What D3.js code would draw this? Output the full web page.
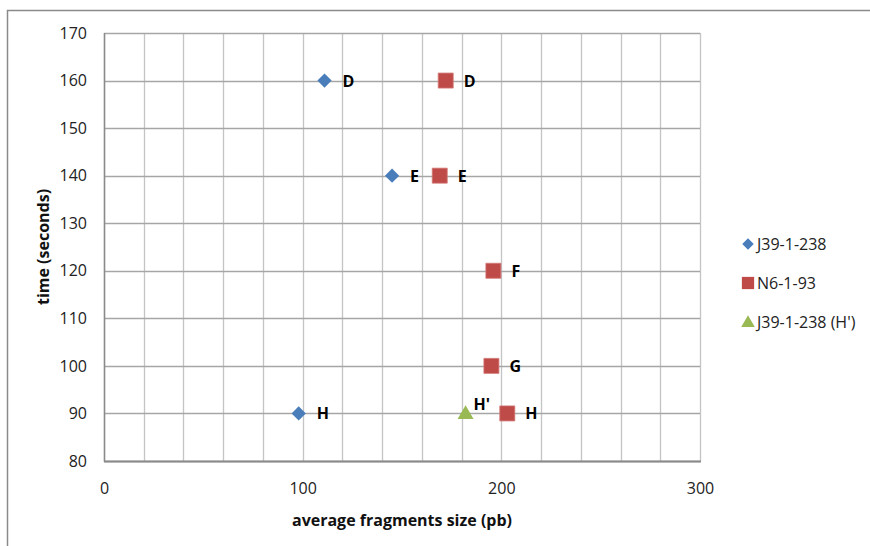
<!DOCTYPE html>
<html>
<head>
<meta charset="utf-8">
<script src="https://cdn.jsdelivr.net/npm/d3@7"></script>
<style>
  html, body { margin: 0; padding: 0; background: #fff; }
  svg text { font-family: "Open Sans", sans-serif; }
</style>
</head>
<body>
<svg id="chart" width="870" height="546"></svg>
<script>
// ---- data ----
const seriesNames = ["J39-1-238", "N6-1-93", "J39-1-238 (H')"];
const j39Sizes = [111, 145, 98];
const j39Times = [160, 140, 90];
const j39Labels = ["D", "E", "H"];
const n6Sizes = [172, 169, 196, 195, 203];
const n6Times = [160, 140, 120, 100, 90];
const n6Labels = ["D", "E", "F", "G", "H"];
const hPrimeSizes = [182];
const hPrimeTimes = [90];
const hPrimeLabels = ["H'"];
const xTicks = [0, 100, 200, 300];
const yTicks = [80, 90, 100, 110, 120, 130, 140, 150, 160, 170];
const xTitle = "average fragments size (pb)";
const yTitle = "time (seconds)";

// ---- layout ----
const svg = d3.select("#chart");
const plot = { left: 104, top: 33, right: 700, bottom: 461 };
const x = d3.scaleLinear().domain([0, 300]).range([plot.left, plot.right]);
const y = d3.scaleLinear().domain([80, 170]).range([plot.bottom, plot.top]);

// outer chart border
svg.append("rect").attr("x", 7.5).attr("y", 10.5).attr("width", 900).attr("height", 600)
  .attr("fill", "none").attr("stroke", "#8a8a8a").attr("stroke-width", 1.5);

// gridlines
const gridX = d3.range(0, 301, 20);
svg.append("g").selectAll("line").data(gridX).join("line")
  .attr("x1", d => Math.round(x(d)) + 0.5).attr("x2", d => Math.round(x(d)) + 0.5)
  .attr("y1", plot.top).attr("y2", plot.bottom)
  .attr("stroke", "#c4c4c4").attr("stroke-width", 1.3);
svg.append("g").selectAll("line").data(yTicks).join("line")
  .attr("x1", plot.left).attr("x2", plot.right)
  .attr("y1", d => Math.round(y(d)) + 0.5).attr("y2", d => Math.round(y(d)) + 0.5)
  .attr("stroke", "#a6a6a6").attr("stroke-width", 1.3);

// axis lines
svg.append("line").attr("x1", plot.left + 0.5).attr("x2", plot.left + 0.5)
  .attr("y1", plot.top).attr("y2", plot.bottom + 1)
  .attr("stroke", "#8a8a8a").attr("stroke-width", 1.5);
svg.append("line").attr("x1", plot.left).attr("x2", plot.right + 1)
  .attr("y1", plot.bottom + 0.5).attr("y2", plot.bottom + 0.5)
  .attr("stroke", "#8a8a8a").attr("stroke-width", 1.8);

// axes via d3 axis generators (lines hidden, labels only)
const xAxis = svg.append("g").attr("transform", `translate(0,${plot.bottom})`)
  .call(d3.axisBottom(x).tickValues(xTicks).tickSize(0).tickPadding(22));
xAxis.select(".domain").remove();
xAxis.selectAll("text").attr("font-size", 16).attr("fill", "#222")
  .style("font-family", "'Open Sans', sans-serif");

const yAxis = svg.append("g").attr("transform", `translate(${plot.left},0)`)
  .call(d3.axisLeft(y).tickValues(yTicks).tickSize(0).tickPadding(17));
yAxis.select(".domain").remove();
yAxis.selectAll("text").attr("font-size", 16).attr("fill", "#222")
  .style("font-family", "'Open Sans', sans-serif");

// axis titles
svg.append("text").attr("x", 402).attr("y", 526).attr("text-anchor", "middle")
  .attr("font-size", 16).attr("font-weight", "bold").attr("fill", "#111").text(xTitle);
svg.append("text").attr("transform", "translate(49,247) rotate(-90)").attr("text-anchor", "middle")
  .attr("font-size", 16).attr("font-weight", "bold").attr("fill", "#111").text(yTitle);

// ---- marks ----
const colors = ["#4a7ebb", "#be4b48", "#98b954"];
const symbols = [
  d3.symbol().type(d3.symbolDiamond2).size(130),
  d3.symbol().type(d3.symbolSquare).size(225),
  d3.symbol().type(d3.symbolTriangle).size(110)
];
const series = [
  { sizes: j39Sizes, times: j39Times, labels: j39Labels },
  { sizes: n6Sizes, times: n6Times, labels: n6Labels },
  { sizes: hPrimeSizes, times: hPrimeTimes, labels: hPrimeLabels }
];

series.forEach((s, i) => {
  const pts = s.sizes.map((v, k) => ({ x: v, y: s.times[k], label: s.labels[k] }));
  const g = svg.append("g");
  g.selectAll("path").data(pts).join("path")
    .attr("d", symbols[i])
    .attr("transform", d => `translate(${x(d.x)},${y(d.y) + (i === 2 ? 1 : 0)})`)
    .attr("fill", colors[i])
    .attr("stroke", i === 1 ? "#d27775" : "none").attr("stroke-width", 0.8);
  g.selectAll("text").data(pts).join("text")
    .attr("x", d => x(d.x) + (i === 2 ? 8 : 18))
    .attr("y", d => y(d.y) + (i === 2 ? -3 : 6))
    .attr("font-size", 16).attr("font-weight", "bold").attr("fill", "#000")
    .text(d => d.label);
});

// ---- legend ----
const legendY = [244, 283, 322];
const lg = svg.append("g");
const legendSyms = [
  d3.symbol().type(d3.symbolDiamond2).size(85),
  d3.symbol().type(d3.symbolSquare).size(150),
  d3.symbol().type(d3.symbolTriangle).size(80)
];
seriesNames.forEach((name, i) => {
  lg.append("path").attr("d", legendSyms[i])
    .attr("transform", `translate(748,${legendY[i] + (i === 2 ? 1 : 0)})`)
    .attr("fill", colors[i]);
  lg.append("text").attr("x", 757).attr("y", legendY[i] + 6)
    .attr("font-size", 16).attr("fill", "#222").text(name);
});
</script>
</body>
</html>
